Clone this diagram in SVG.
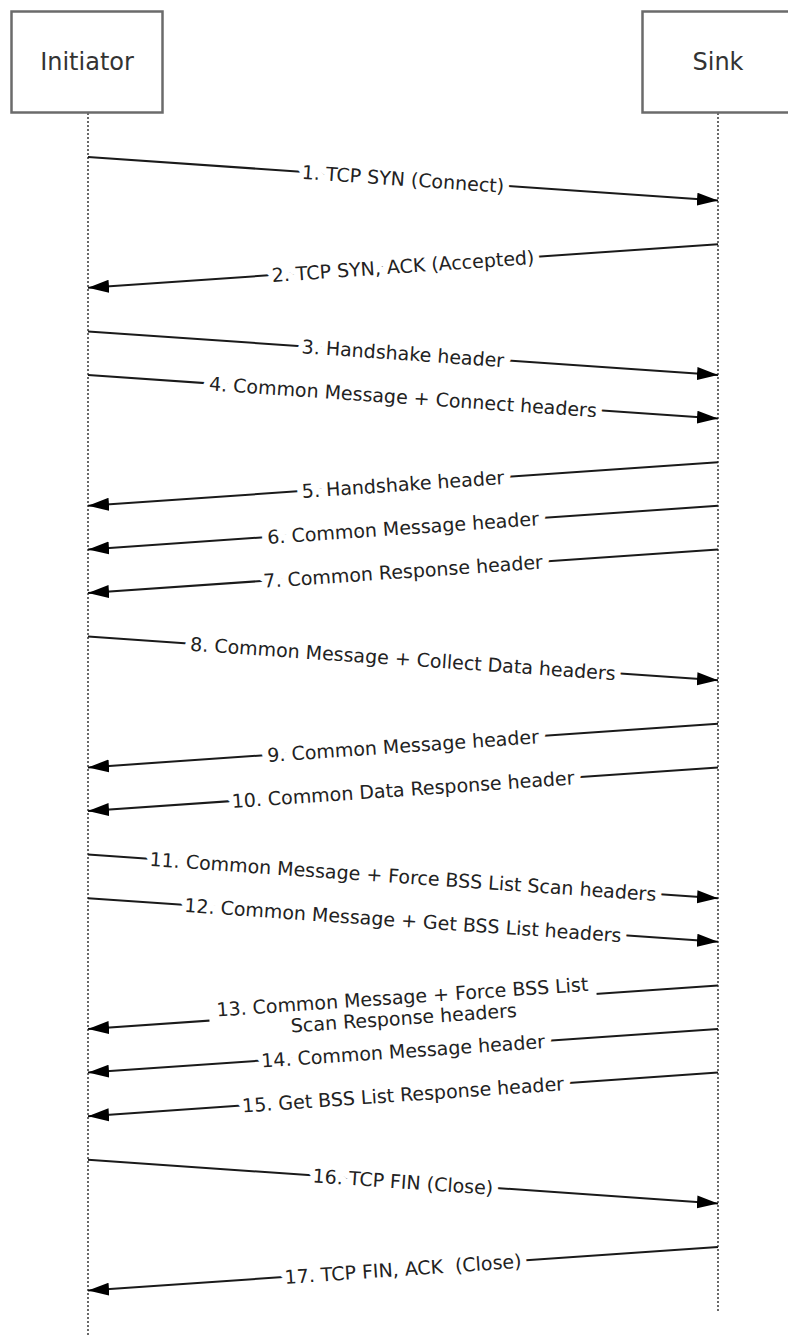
<svg xmlns="http://www.w3.org/2000/svg" width="788" height="1336" viewBox="0 0 788 1336">
<style>
.box{fill:#fff;stroke:#6b6b6b;stroke-width:2.5}
.actor{font-family:"DejaVu Sans",Verdana,sans-serif;font-size:24px;fill:#333;text-anchor:middle}
.life{stroke:#444;stroke-width:1.6;stroke-dasharray:2 2;fill:none}
.msg{stroke:#1a1a1a;stroke-width:2;fill:none;marker-end:url(#ah)}
.lbl{font-family:"DejaVu Sans",Verdana,sans-serif;font-size:19px;fill:#222;text-anchor:middle;paint-order:stroke;stroke:#fff;stroke-width:13px;stroke-linejoin:round;white-space:pre}
</style>
<defs>
<marker id="ah" markerUnits="userSpaceOnUse" markerWidth="21" markerHeight="14" refX="21" refY="7" orient="auto">
<path d="M0,0.5 L21,7 L0,13.5 z" fill="#000"/>
</marker>
</defs>
<g id="lifelines">
<line class="life" x1="88" y1="113" x2="88" y2="1336"/>
<line class="life" x1="718" y1="113" x2="718" y2="1312"/>
</g>
<g id="initiator">
<rect class="box" x="11.5" y="11.5" width="151" height="101"/>
<text class="actor" x="87" y="70">Initiator</text>
</g>
<g id="sink">
<rect class="box" x="642.5" y="11.5" width="151" height="101"/>
<text class="actor" x="718" y="70">Sink</text>
</g>
<g id="connectors">
<line class="msg" x1="88" y1="157" x2="718" y2="200.6"/>
<line class="msg" x1="718" y1="244.2" x2="88" y2="287.8"/>
<line class="msg" x1="88" y1="331.4" x2="718" y2="375"/>
<line class="msg" x1="88" y1="375" x2="718" y2="418.6"/>
<line class="msg" x1="718" y1="462.2" x2="88" y2="505.8"/>
<line class="msg" x1="718" y1="505.8" x2="88" y2="549.4"/>
<line class="msg" x1="718" y1="549.4" x2="88" y2="593"/>
<line class="msg" x1="88" y1="636.6" x2="718" y2="680.2"/>
<line class="msg" x1="718" y1="723.8" x2="88" y2="767.4"/>
<line class="msg" x1="718" y1="767.4" x2="88" y2="811"/>
<line class="msg" x1="88" y1="854.6" x2="718" y2="898.2"/>
<line class="msg" x1="88" y1="898.2" x2="718" y2="941.8"/>
<line class="msg" x1="718" y1="985.4" x2="88" y2="1029"/>
<line class="msg" x1="718" y1="1029" x2="88" y2="1072.6"/>
<line class="msg" x1="718" y1="1072.6" x2="88" y2="1116.2"/>
<line class="msg" x1="88" y1="1159.8" x2="718" y2="1203.4"/>
<line class="msg" x1="718" y1="1247" x2="88" y2="1290.6"/>
</g>
<g id="labels">
<text class="lbl" transform="translate(403,178.8) rotate(3.96)" y="7">1. TCP SYN (Connect)</text>
<text class="lbl" transform="translate(403,266) rotate(-3.96)" y="7">2. TCP SYN, ACK (Accepted)</text>
<text class="lbl" transform="translate(403,353.2) rotate(3.96)" y="7">3. Handshake header</text>
<text class="lbl" transform="translate(403,396.8) rotate(3.96)" y="7">4. Common Message + Connect headers</text>
<text class="lbl" transform="translate(403,484) rotate(-3.96)" y="7">5. Handshake header</text>
<text class="lbl" transform="translate(403,527.6) rotate(-3.96)" y="7">6. Common Message header</text>
<text class="lbl" transform="translate(403,571.2) rotate(-3.96)" y="7">7. Common Response header</text>
<text class="lbl" transform="translate(403,658.4) rotate(3.96)" y="7">8. Common Message + Collect Data headers</text>
<text class="lbl" transform="translate(403,745.6) rotate(-3.96)" y="7">9. Common Message header</text>
<text class="lbl" transform="translate(403,789.2) rotate(-3.96)" y="7">10. Common Data Response header</text>
<text class="lbl" transform="translate(403,876.4) rotate(3.96)" y="7">11. Common Message + Force BSS List Scan headers</text>
<text class="lbl" transform="translate(403,920) rotate(3.96)" y="7">12. Common Message + Get BSS List headers</text>
<g transform="translate(403,1007.2) rotate(-3.96)">
<rect x="-194" y="-22" width="388" height="44" fill="#fff"/>
<text class="lbl" x="0" y="-3.5">13. Common Message + Force BSS List</text>
<text class="lbl" x="0" y="17.5">Scan Response headers</text>
</g>
<text class="lbl" transform="translate(403,1050.8) rotate(-3.96)" y="7">14. Common Message header</text>
<text class="lbl" transform="translate(403,1094.4) rotate(-3.96)" y="7">15. Get BSS List Response header</text>
<text class="lbl" transform="translate(403,1181.6) rotate(3.96)" y="7">16. TCP FIN (Close)</text>
<g transform="translate(403,1268.8) rotate(-3.96)">
<rect x="-112" y="-10" width="224" height="20" fill="#fff"/>
<text class="lbl" x="0" y="7">17. TCP FIN, ACK  (Close)</text>
</g>
</g>
</svg>
